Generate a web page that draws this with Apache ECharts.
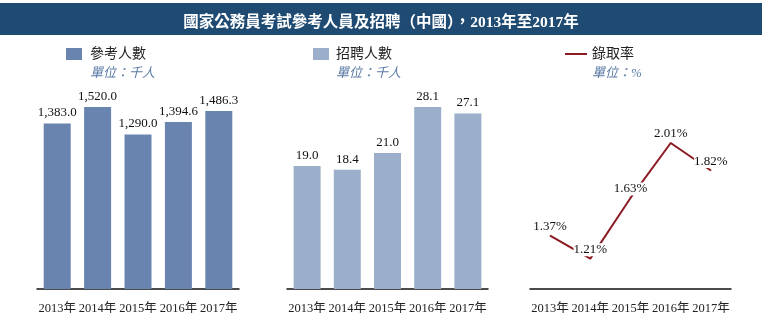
<!DOCTYPE html>
<html>
<head>
<meta charset="utf-8">
<script src="https://cdn.jsdelivr.net/npm/echarts@6/dist/echarts.min.js"></script>
<style>html,body{margin:0;padding:0;background:#fff;}#c{width:762px;height:323px;}</style>
</head>
<body>
<div id="c"></div>
<script>
var years = ['2013年', '2014年', '2015年', '2016年', '2017年'];
var applicants = [1383.0, 1520.0, 1290.0, 1394.6, 1486.3];
var recruits = [19.0, 18.4, 21.0, 28.1, 27.1];
var admissionRate = [1.37, 1.21, 1.63, 2.01, 1.82];
var titleText = '國家公務員考試參考人員及招聘（中國），2013年至2017年';
var seriesNames = ['參考人數', '招聘人數', '錄取率'];
var unitTexts = ['單位：千人', '單位：千人', '單位：%'];

var FONT = "'Liberation Serif', 'Noto Sans CJK TC', serif";
var chart = echarts.init(document.getElementById('c'));

function xAxis(i) {
  return {
    gridIndex: i, type: 'category', data: years,
    axisLine: { lineStyle: { color: '#111', width: 1.5 } },
    axisTick: { show: false },
    axisLabel: { color: '#222', fontFamily: FONT, fontSize: 12.5, margin: 13, interval: 0 }
  };
}
function yAxis(i, min, max) {
  return { gridIndex: i, type: 'value', min: min, max: max, show: false, splitLine: { show: false } };
}

var barLabel = {
  show: true, position: 'top', distance: 4, color: '#111', fontFamily: FONT, fontSize: 13
};

chart.setOption({
  animation: false,
  title: {
    text: titleText, left: 'center', top: 10,
    textStyle: { color: '#fff', fontFamily: FONT, fontSize: 15.5, fontWeight: 'bold' }
  },
  graphic: [
    { type: 'rect', left: 0, top: 3, z: -1, shape: { width: 762, height: 32 }, style: { fill: '#1f4b73' } },
    { type: 'text', left: 90, top: 67, style: { text: unitTexts[0], fill: '#5b7aa6', font: "italic 13px " + FONT } },
    { type: 'text', left: 336, top: 67, style: { text: unitTexts[1], fill: '#5b7aa6', font: "italic 13px " + FONT } },
    { type: 'text', left: 592, top: 67, style: { text: unitTexts[2], fill: '#5b7aa6', font: "italic 13px " + FONT } }
  ],
  legend: [
    { data: [seriesNames[0]], left: 61, top: 42, icon: 'rect', itemWidth: 16, itemHeight: 12,
      textStyle: { color: '#222', fontFamily: FONT, fontSize: 14, padding: [0, 0, 0, 3] } },
    { data: [seriesNames[1]], left: 308, top: 42, icon: 'rect', itemWidth: 16, itemHeight: 12,
      textStyle: { color: '#222', fontFamily: FONT, fontSize: 14, padding: [0, 0, 0, 2] } },
    { data: [seriesNames[2]], left: 560, top: 42, icon: 'rect', itemWidth: 22, itemHeight: 2,
      textStyle: { color: '#222', fontFamily: FONT, fontSize: 14 } }
  ],
  grid: [
    { left: 37, width: 202, top: 107, bottom: 34 },
    { left: 287, width: 201, top: 107, bottom: 34 },
    { left: 530, width: 201, top: 143, bottom: 34 }
  ],
  xAxis: [xAxis(0), xAxis(1), xAxis(2)],
  yAxis: [yAxis(0, 0, 'dataMax'), yAxis(1, 0, 'dataMax'), yAxis(2, 1.0, 'dataMax')],
  series: [
    { name: seriesNames[0], type: 'bar', xAxisIndex: 0, yAxisIndex: 0, data: applicants, barWidth: 27,
      itemStyle: { color: '#6a84b0' },
      label: Object.assign({}, barLabel, { formatter: function (p) {
        return p.value.toLocaleString('en-US', { minimumFractionDigits: 1, maximumFractionDigits: 1 }); } }) },
    { name: seriesNames[1], type: 'bar', xAxisIndex: 1, yAxisIndex: 1, data: recruits, barWidth: 27,
      itemStyle: { color: '#9bafca' },
      label: Object.assign({}, barLabel, { formatter: function (p) { return p.value.toFixed(1); } }) },
    { name: seriesNames[2], type: 'line', xAxisIndex: 2, yAxisIndex: 2, data: admissionRate,
      symbol: 'circle', symbolSize: 1, showSymbol: true,
      itemStyle: { color: '#8b1a22' },
      lineStyle: { color: '#8b1a22', width: 2 },
      label: { show: true, position: 'top', distance: 2, color: '#111', fontFamily: FONT, fontSize: 13,
        backgroundColor: '#fff', padding: [0, 0, 0, 0],
        formatter: function (p) { return p.value.toFixed(2) + '%'; } } }
  ]
});
</script>
</body>
</html>
